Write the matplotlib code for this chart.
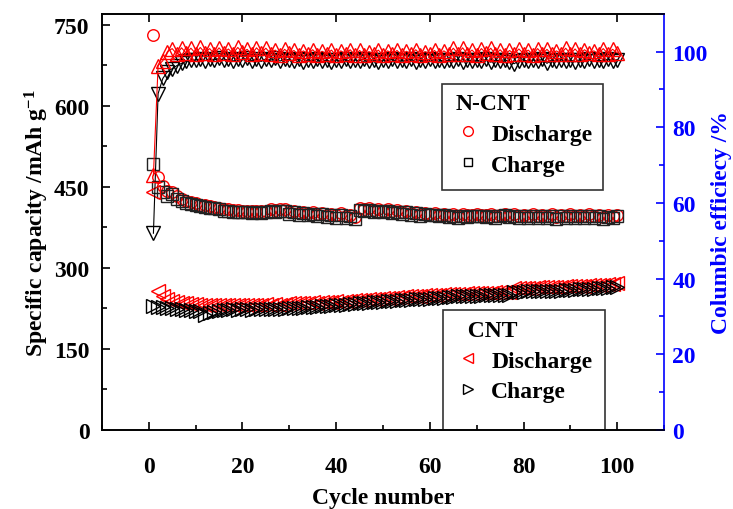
import numpy as np
import matplotlib
matplotlib.use("Agg")
import matplotlib.pyplot as plt
from matplotlib.lines import Line2D
from matplotlib.patches import Rectangle
from matplotlib.ticker import MultipleLocator

plt.rcParams['font.family'] = ['Liberation Serif', 'DejaVu Serif']
plt.rcParams['font.weight'] = 'bold'
plt.rcParams['mathtext.fontset'] = 'custom'
plt.rcParams['mathtext.rm'] = 'Liberation Serif:bold'
plt.rcParams['mathtext.bf'] = 'Liberation Serif:bold'
plt.rcParams['mathtext.default'] = 'bf'

cycles = np.arange(1, 101)

ncnt_discharge = [
    730, 468, 452, 443, 441, 432, 428, 424, 421, 419,
    417, 416, 414, 413, 411, 409, 408, 407, 407, 406,
    406, 405, 406, 405, 406, 408, 407, 409, 408, 404,
    406, 402, 404, 401, 403, 400, 402, 398, 400, 397,
    401, 396, 398, 394, 410, 408, 410, 407, 409, 406,
    408, 405, 407, 403, 406, 401, 404, 399, 402, 400,
    401, 398, 400, 397, 399, 396, 399, 397, 398, 399,
    398, 397, 399, 396, 398, 400, 397, 399, 395, 398,
    396, 399, 395, 398, 396, 399, 394, 398, 396, 399,
    395, 398, 396, 399, 395, 398, 394, 397, 395, 398]

ncnt_charge = [
    492, 449, 440, 432, 436, 427, 424, 420, 418, 416,
    414, 413, 411, 410, 408, 406, 405, 404, 404, 403,
    403, 402, 403, 402, 403, 405, 404, 406, 405, 400,
    403, 398, 401, 397, 400, 396, 399, 394, 397, 393,
    398, 392, 395, 390, 407, 405, 407, 404, 406, 403,
    405, 402, 404, 400, 403, 398, 401, 396, 399, 397,
    398, 395, 397, 394, 396, 393, 396, 394, 395, 396,
    395, 394, 396, 393, 395, 397, 394, 396, 392, 395,
    393, 396, 392, 395, 393, 396, 391, 395, 393, 396,
    392, 395, 393, 396, 392, 395, 391, 394, 392, 395]

ncnt_eff = [
    67.4, 96.3, 97.6, 100.0, 100.8, 99.4, 101.0, 99.6, 100.9, 99.5,
    101.1, 99.7, 100.8, 99.4, 101.0, 99.6, 100.7, 99.5, 101.1, 99.8,
    100.6, 99.3, 101.0, 99.7, 100.9, 99.5, 100.4, 99.2, 100.6, 99.6,
    100.3, 99.1, 100.2, 99.4, 100.5, 99.2, 100.1, 99.3, 100.4, 99.0,
    100.2, 99.4, 100.5, 99.1, 100.3, 99.2, 100.0, 99.3, 100.4, 99.1,
    100.2, 99.4, 100.3, 99.0, 100.1, 99.3, 100.5, 99.2, 100.0, 99.4,
    100.3, 99.1, 100.2, 99.3, 100.9, 99.5, 101.0, 99.4, 100.4, 99.2,
    100.8, 99.6, 100.9, 99.3, 100.5, 99.2, 100.3, 99.4, 100.7, 99.5,
    100.4, 99.2, 100.8, 99.4, 100.6, 99.3, 100.2, 99.5, 100.9, 99.4,
    100.7, 99.3, 100.5, 99.6, 100.2, 99.4, 100.8, 99.5, 100.6, 99.7]

cnt_eff = [
    52.0, 88.9, 92.9, 94.7, 95.5, 96.3, 96.9, 97.4, 97.7, 97.8,
    98.0, 97.6, 98.1, 97.8, 98.2, 97.7, 98.0, 97.5, 98.1, 97.8,
    98.2, 97.6, 98.0, 97.4, 98.1, 97.7, 98.2, 97.5, 98.0, 97.8,
    97.6, 98.1, 97.3, 97.9, 97.6, 98.0, 97.4, 97.8, 97.2, 97.9,
    97.5, 98.0, 97.4, 97.8, 97.6, 98.1, 97.5, 97.9, 97.3, 97.8,
    97.6, 98.0, 97.4, 97.9, 97.5, 98.1, 97.3, 97.8, 97.6, 98.0,
    97.5, 97.9, 97.4, 97.8, 97.6, 98.0, 97.3, 97.9, 97.5, 97.8,
    97.4, 98.0, 97.2, 97.8, 97.5, 97.9, 97.3, 96.8, 97.6, 97.9,
    97.4, 97.8, 97.5, 98.0, 96.9, 97.8, 97.4, 97.9, 97.5, 97.8,
    97.3, 97.9, 97.5, 98.0, 97.4, 97.8, 97.5, 98.1, 97.6, 97.9]

cnt_discharge = [
    440, 257, 247, 242, 238, 236, 235, 234, 233, 233,
    232, 232, 231, 231, 232, 231, 231, 232, 231, 232,
    232, 231, 232, 232, 233, 232, 233, 232, 233, 234,
    234, 235, 234, 235, 236, 235, 236, 236, 237, 238,
    237, 238, 239, 240, 240, 241, 242, 242, 243, 244,
    244, 245, 246, 246, 247, 247, 248, 248, 249, 249,
    250, 250, 251, 251, 252, 252, 252, 253, 253, 253,
    254, 254, 254, 255, 255, 256, 256, 262, 262, 263,
    263, 263, 264, 264, 264, 265, 265, 265, 266, 266,
    266, 267, 267, 268, 268, 269, 269, 270, 270, 271]

cnt_charge = [
    229, 228, 227, 226, 226, 224, 223, 222, 222, 221,
    220, 212, 216, 218, 221, 222, 222, 223, 222, 223,
    223, 222, 223, 223, 224, 223, 224, 223, 224, 225,
    225, 226, 226, 227, 228, 228, 229, 229, 230, 231,
    231, 232, 233, 233, 234, 235, 235, 236, 237, 237,
    238, 239, 239, 240, 240, 241, 242, 242, 243, 243,
    244, 245, 245, 246, 246, 247, 247, 247, 248, 248,
    248, 249, 249, 249, 250, 250, 250, 256, 256, 256,
    257, 257, 257, 257, 258, 258, 258, 258, 259, 259,
    259, 260, 260, 261, 261, 262, 262, 263, 264, 265]

fs = 17
fig = plt.figure(figsize=(7.33, 5.10), dpi=100)
ax = fig.add_axes([0.139, 0.155, 0.767, 0.816])
ax2 = ax.twinx()

ms = 8.3
ax.plot(cycles, ncnt_discharge, 'o', ms=ms, mfc='none', mec='red', mew=1)
ax.plot(cycles, ncnt_charge, 's', ms=ms, mfc='none', mec='#222222', mew=1)
ax.plot(cycles, cnt_discharge, '<', ms=ms + 1.5, mfc='none', mec='red', mew=1)
ax.plot(cycles, cnt_charge, '>', ms=ms + 1.5, mfc='none', mec='black', mew=1)

ax2.plot(cycles, cnt_eff, 'v-', ms=ms + 1.5, mfc='none', mec='black', color='black', lw=0.8, mew=1)
ax2.plot(cycles, ncnt_eff, '^-', ms=ms + 1.5, mfc='none', mec='red', color='red', lw=0.8, mew=1)

ax.set_xlim(-10, 110)
ax.set_ylim(0, 770)
ax2.set_ylim(0, 110)

ax.xaxis.set_major_locator(MultipleLocator(20))
ax.xaxis.set_minor_locator(MultipleLocator(10))
ax.yaxis.set_major_locator(MultipleLocator(150))
ax.yaxis.set_minor_locator(MultipleLocator(75))
ax2.yaxis.set_major_locator(MultipleLocator(20))
ax2.yaxis.set_minor_locator(MultipleLocator(10))

ax.tick_params(axis='both', which='major', direction='in', length=6, width=1.2, labelsize=fs)
ax.tick_params(axis='both', which='minor', direction='in', length=3.5, width=1.2)
ax.tick_params(axis='x', which='major', top=True, pad=19)
ax.tick_params(axis='y', pad=9)
ax2.tick_params(axis='y', which='major', direction='in', length=6, width=1.2, labelsize=fs,
                colors='blue', pad=6)
ax2.tick_params(axis='y', which='minor', direction='in', length=3.5, width=1.2, colors='blue')

for s in ['left', 'bottom', 'top']:
    ax.spines[s].set_linewidth(1.2)
    ax2.spines[s].set_linewidth(1.2)
ax2.spines['right'].set_color('blue')
ax2.spines['right'].set_linewidth(1.2)
ax.spines['right'].set_visible(False)

ax.set_xlabel('Cycle number', fontsize=fs, fontweight='bold', labelpad=7)
ax.set_ylabel('Specific capacity /mAh g$^{-1}$', fontsize=fs, fontweight='bold', labelpad=2)
ax2.set_ylabel('Columbic efficiecy /%', fontsize=fs, fontweight='bold', color='blue', labelpad=2)

# legend boxes
ax.add_patch(Rectangle((0.605, 0.577), 0.286, 0.255, transform=ax.transAxes,
                       fill=False, edgecolor='#333333', lw=1.2, zorder=5))
ax.add_patch(Rectangle((0.607, -0.05), 0.288, 0.338, transform=ax.transAxes,
                       fill=False, edgecolor='#333333', lw=1.2, zorder=5, clip_on=True))

h1 = [Line2D([], [], ls='none', marker='o', ms=7, mfc='none', mec='red'),
      Line2D([], [], ls='none', marker='s', ms=5.5, mfc='none', mec='black')]
leg1 = ax.legend(h1, ['Discharge', 'Charge'], title='N-CNT', loc='upper left',
                 bbox_to_anchor=(0.6, 0.85), frameon=False, fontsize=fs,
                 title_fontproperties={'weight': 'bold', 'size': fs},
                 handletextpad=0.5, handlelength=1.0, labelspacing=0.4, borderpad=0.2)
leg1._legend_box.align = 'left'
ax.add_artist(leg1)

h2 = [Line2D([], [], ls='none', marker='<', ms=7, mfc='none', mec='red'),
      Line2D([], [], ls='none', marker='>', ms=7, mfc='none', mec='black')]
leg2 = ax.legend(h2, ['Discharge', 'Charge'], title='  CNT', loc='upper left',
                 bbox_to_anchor=(0.6, 0.305), frameon=False, fontsize=fs,
                 title_fontproperties={'weight': 'bold', 'size': fs},
                 handletextpad=0.5, handlelength=1.0, labelspacing=0.4, borderpad=0.2)
leg2._legend_box.align = 'left'

fig.savefig('out.png', dpi=100)
